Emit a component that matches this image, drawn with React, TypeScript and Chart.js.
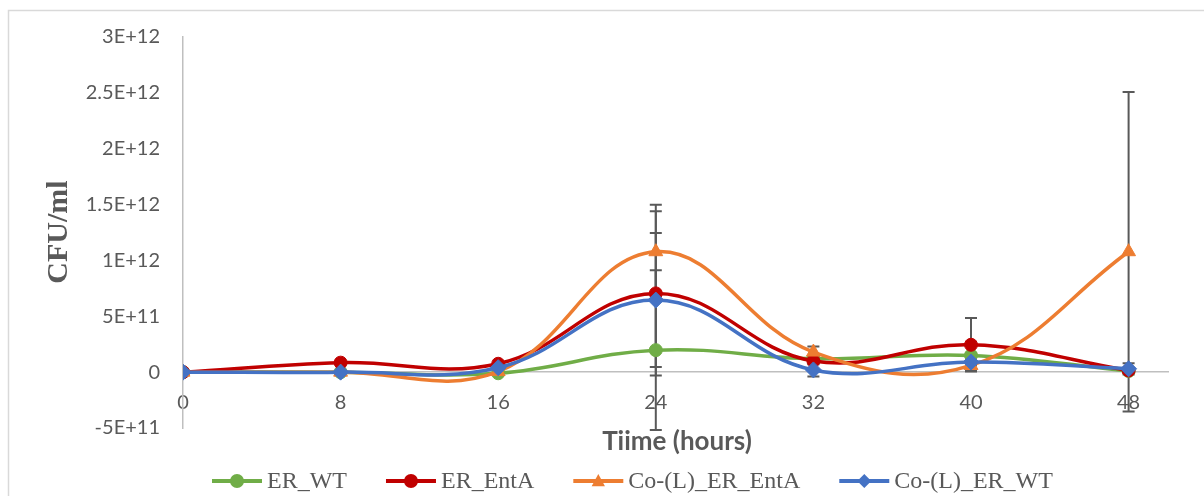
import React, { useEffect, useRef } from 'react';
import { Chart, registerables } from 'chart.js';

Chart.register(...registerables);

// ---- data ----
const hours = [0, 8, 16, 24, 32, 40, 48];
const erWT = [0, 0, -0.01e12, 0.197e12, 0.12e12, 0.15e12, 0.01e12];
const erEntA = [0, 0.085e12, 0.075e12, 0.705e12, 0.1e12, 0.245e12, 0.015e12];
const coEntA = [0, 0, 0.005e12, 1.078e12, 0.18e12, 0.06e12, 1.078e12];
const coWT = [0, 0, 0.04e12, 0.645e12, 0.02e12, 0.09e12, 0.03e12];

const errWT = [0, 0, 0.01e12, 0.716e12, 0.02e12, 0.02e12, 0.01e12];
const errEntA = [0, 0, 0.01e12, 0.735e12, 0.03e12, 0.24e12, 0.02e12];
const errCoEntA = [0, 0, 0.01e12, 0.42e12, 0.05e12, 0.05e12, 1.43e12];
const errCoWT = [0, 0, 0.01e12, 0.6e12, 0.06e12, 0.03e12, 0.05e12];

const xTicks = [0, 8, 16, 24, 32, 40, 48];
const yTicks = [-5e11, 0, 5e11, 1e12, 1.5e12, 2e12, 2.5e12, 3e12];
const yTickLabels = ['-5E+11', '0', '5E+11', '1E+12', '1.5E+12', '2E+12', '2.5E+12', '3E+12'];

const seriesNames = ['ER_WT', 'ER_EntA', 'Co-(L)_ER_EntA', 'Co-(L)_ER_WT'];
const seriesColors = ['#70AD47', '#C00000', '#ED7D31', '#4472C4'];
const seriesMarkers = ['circle', 'circle', 'triangle', 'rectRot'];
const seriesValues = [erWT, erEntA, coEntA, coWT];
const seriesErrors = [errWT, errEntA, errCoEntA, errCoWT];

const xTitle = 'Tiime (hours)';
const yTitle = 'CFU/ml';

const TEXT = '#595959';
const SANS = 'Lato, "Open Sans", sans-serif';
const SERIF = '"Liberation Serif", "Times New Roman", serif';

function drawMarker(ctx: CanvasRenderingContext2D, kind: string, x: number, y: number, r: number, color: string) {
  ctx.save();
  ctx.fillStyle = color;
  ctx.beginPath();
  if (kind === 'circle') {
    ctx.arc(x, y, r, 0, Math.PI * 2);
  } else if (kind === 'triangle') {
    ctx.moveTo(x, y - r);
    ctx.lineTo(x + r * 0.95, y + r * 0.75);
    ctx.lineTo(x - r * 0.95, y + r * 0.75);
    ctx.closePath();
  } else {
    ctx.moveTo(x, y - r);
    ctx.lineTo(x + r, y);
    ctx.lineTo(x, y + r);
    ctx.lineTo(x - r, y);
    ctx.closePath();
  }
  ctx.fill();
  ctx.restore();
}

const decorPlugin = {
  id: 'decor',
  beforeDraw(chart: any) {
    const ctx = chart.ctx as CanvasRenderingContext2D;
    ctx.save();
    ctx.strokeStyle = '#d9d9d9';
    ctx.lineWidth = 1.5;
    ctx.beginPath();
    ctx.moveTo(8.5, chart.height);
    ctx.lineTo(8.5, 10.5);
    ctx.lineTo(chart.width, 10.5);
    ctx.stroke();
    ctx.restore();
  },
  beforeDatasetsDraw(chart: any) {
    const ctx = chart.ctx as CanvasRenderingContext2D;
    const yScale = chart.scales.y;
    ctx.save();
    ctx.strokeStyle = '#595959';
    ctx.lineWidth = 2;
    chart.data.datasets.forEach((ds: any, di: number) => {
      const meta = chart.getDatasetMeta(di);
      const errs = seriesErrors[di];
      meta.data.forEach((pt: any, i: number) => {
        const e = errs[i];
        if (!e) return;
        const v = seriesValues[di][i];
        const x = pt.x;
        const yTop = yScale.getPixelForValue(v + e);
        const yBot = yScale.getPixelForValue(v - e);
        ctx.beginPath();
        ctx.moveTo(x, yTop);
        ctx.lineTo(x, yBot);
        ctx.moveTo(x - 6, yTop);
        ctx.lineTo(x + 6, yTop);
        ctx.moveTo(x - 6, yBot);
        ctx.lineTo(x + 6, yBot);
        ctx.stroke();
      });
    });
    ctx.restore();
  },
  afterDraw(chart: any) {
    const ctx = chart.ctx as CanvasRenderingContext2D;
    ctx.save();
    // x-axis title
    ctx.fillStyle = TEXT;
    ctx.font = `bold 26px ${SANS}`;
    ctx.textAlign = 'center';
    ctx.textBaseline = 'middle';
    ctx.fillText(xTitle, 677, 442);
    // y-axis title
    ctx.save();
    ctx.translate(59, 232);
    ctx.rotate(-Math.PI / 2);
    ctx.font = `bold 30px ${SERIF}`;
    ctx.fillStyle = TEXT;
    ctx.fillText(yTitle, 0, 0);
    ctx.restore();
    // legend
    ctx.font = `24px ${SERIF}`;
    ctx.textAlign = 'left';
    ctx.textBaseline = 'middle';
    let x = 212;
    const ly = 481;
    seriesNames.forEach((name, i) => {
      ctx.strokeStyle = seriesColors[i];
      ctx.lineWidth = 4;
      ctx.beginPath();
      ctx.moveTo(x, ly);
      ctx.lineTo(x + 50, ly);
      ctx.stroke();
      drawMarker(ctx, seriesMarkers[i], x + 25, ly, 7, seriesColors[i]);
      ctx.fillStyle = TEXT;
      ctx.fillText(name, x + 55, ly + 1);
      const w = ctx.measureText(name).width;
      x = x + 55 + w + 39;
    });
    ctx.restore();
  },
};

export default function App() {
  const ref = useRef<HTMLCanvasElement>(null);
  useEffect(() => {
    document.body.style.margin = '0';
    const canvas = ref.current!;
    const chart = new Chart(canvas, {
      type: 'line',
      data: {
        datasets: seriesNames.map((name, i) => ({
          label: name,
          data: hours.map((h, j) => ({ x: h, y: seriesValues[i][j] })),
          borderColor: seriesColors[i],
          backgroundColor: seriesColors[i],
          pointBackgroundColor: seriesColors[i],
          pointBorderColor: seriesColors[i],
          pointStyle: seriesMarkers[i] as any,
          pointRadius: seriesMarkers[i] === 'circle' ? 6.5 : 8,
          pointBorderWidth: 1,
          borderWidth: 3.5,
          tension: 0.4,
          fill: false,
          order: 4 - i,
        })),
      },
      options: {
        animation: false,
        responsive: false,
        maintainAspectRatio: false,
        layout: { padding: { top: 37, right: 36, bottom: 68, left: 0 } },
        plugins: { legend: { display: false }, tooltip: { enabled: false } },
        scales: {
          x: {
            type: 'linear',
            position: { y: 0 } as any,
            min: 0,
            max: 50,
            afterBuildTicks: (s: any) => { s.ticks = xTicks.map((v) => ({ value: v })); },
            grid: { display: true, drawOnChartArea: false, drawTicks: false },
            border: { display: true, color: '#bfbfbf', width: 1.5 },
            ticks: {
              autoSkip: false,
              maxRotation: 0,
              padding: 18,
              color: TEXT,
              font: { family: SANS, size: 20 },
              callback: (v: any) => String(v),
            },
          },
          y: {
            type: 'linear',
            position: 'left',
            min: -5e11,
            max: 3e12,
            afterBuildTicks: (s: any) => { s.ticks = yTicks.map((v) => ({ value: v })); },
            afterFit: (s: any) => { s.width = 183; },
            grid: { display: true, drawOnChartArea: false, drawTicks: false },
            border: { display: true, color: '#bfbfbf', width: 1.5 },
            ticks: {
              autoSkip: false,
              padding: 23,
              color: TEXT,
              font: { family: SANS, size: 20 },
              callback: (v: any) => {
                const k = yTicks.indexOf(v);
                return k >= 0 ? yTickLabels[k] : '';
              },
            },
          },
        },
      },
      plugins: [decorPlugin],
    });
    return () => chart.destroy();
  }, []);
  return <canvas ref={ref} width={1204} height={496} style={{ display: 'block', width: 1204, height: 496 }} />;
}
